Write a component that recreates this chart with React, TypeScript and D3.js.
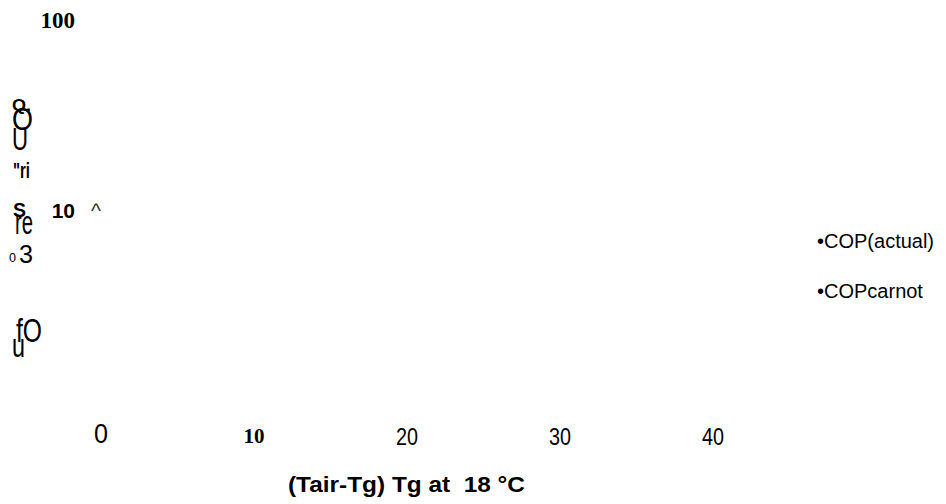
import React from "react";
import * as d3 from "d3";

// ---- data ----
const xTicks = [0, 10, 20, 30, 40];
const yTicks = [100, 10];
const legendLabels = ["•COP(actual)", "•COPcarnot"];
const xTitle = "(Tair-Tg) Tg at  18 °C";
// garbled (scanned) y-axis title fragments, top to bottom
const yTitleFragments = ["Q.", "O", "U", "\"ri", "S", "re", "0", "3", "fO", "u", "^"];

// ---- layout ----
const W = 946;
const H = 504;
const SANS = "'Liberation Sans', Arial, sans-serif";
const SERIF = "'Liberation Serif', 'Times New Roman', serif";

type Frag = { x: number; y: number; size: number; bold?: boolean; len?: number; fill?: string };
const fragLayout: Frag[] = [
  { x: 12, y: 111, size: 17, bold: true, len: 19 },
  { x: 12, y: 130, size: 31, len: 21 },
  { x: 12, y: 150, size: 32, len: 16 },
  { x: 13, y: 178, size: 22, bold: true, len: 17 },
  { x: 13, y: 217, size: 21, bold: true, len: 13 },
  { x: 15, y: 234, size: 33, len: 18 },
  { x: 9, y: 262, size: 12.5, len: 7 },
  { x: 19, y: 263, size: 25, len: 14 },
  { x: 16, y: 342, size: 33, len: 26 },
  { x: 12, y: 357, size: 33, len: 13 },
  { x: 91, y: 218, size: 21, len: 10, fill: "#333" },
];

export default function App() {
  const x = d3.scaleLinear().domain([0, 40]).range([101, 713]);
  const y = d3.scaleLog().domain([10, 100]).range([218, 28]);

  const xTickStyle = (i: number) => {
    if (i === 0) return { fontFamily: SANS, fontSize: 28, fontWeight: "normal", dy: 443, len: 14 };
    if (i === 1) return { fontFamily: SERIF, fontSize: 21, fontWeight: "bold", dy: 443, len: 21 };
    return { fontFamily: SANS, fontSize: 24, fontWeight: "normal", dy: 445, len: 22 };
  };
  const yTickStyle = (i: number) =>
    i === 0
      ? { fontFamily: SERIF, fontSize: 23, fontWeight: "bold" }
      : { fontFamily: SANS, fontSize: 21, fontWeight: "bold" };

  return (
    <svg
      width={W}
      height={H}
      viewBox={`0 0 ${W} ${H}`}
      style={{ position: "absolute", left: 0, top: 0, background: "#fff" }}
    >
      <rect width={W} height={H} fill="#fff" />
      {/* y tick labels */}
      {yTicks.map((t, i) => {
        const s = yTickStyle(i);
        return (
          <text
            key={"y" + t}
            x={75}
            y={y(t)}
            textAnchor="end"
            fontFamily={s.fontFamily}
            fontSize={s.fontSize}
            fontWeight={s.fontWeight}
            fill="#000"
          >
            {String(t)}
          </text>
        );
      })}
      {/* garbled y-axis title */}
      {yTitleFragments.map((f, i) => {
        const l = fragLayout[i];
        return (
          <text
            key={"f" + i}
            x={l.x}
            y={l.y}
            fontFamily={SANS}
            fontSize={l.size}
            fontWeight={l.bold ? "bold" : "normal"}
            textLength={l.len}
            lengthAdjust="spacingAndGlyphs"
            fill={l.fill || "#000"}
          >
            {f}
          </text>
        );
      })}
      {/* x tick labels */}
      {xTicks.map((t, i) => {
        const s = xTickStyle(i);
        return (
          <text
            key={"x" + t}
            x={x(t) - s.len / 2}
            y={s.dy}
            fontFamily={s.fontFamily}
            fontSize={s.fontSize}
            fontWeight={s.fontWeight}
            textLength={s.len}
            lengthAdjust="spacingAndGlyphs"
            fill="#000"
          >
            {String(t)}
          </text>
        );
      })}
      {/* x-axis title */}
      <text
        x={288}
        y={492}
        fontFamily={SANS}
        fontSize={22}
        fontWeight="bold"
        textLength={237}
        lengthAdjust="spacingAndGlyphs"
        fill="#000"
        style={{ whiteSpace: "pre" }}
      >
        {xTitle}
      </text>
      {/* legend */}
      {legendLabels.map((l, i) => (
        <text
          key={l}
          x={817}
          y={248 + i * 50}
          fontFamily={SANS}
          fontSize={20}
          fill="#000"
        >
          {l}
        </text>
      ))}
    </svg>
  );
}
